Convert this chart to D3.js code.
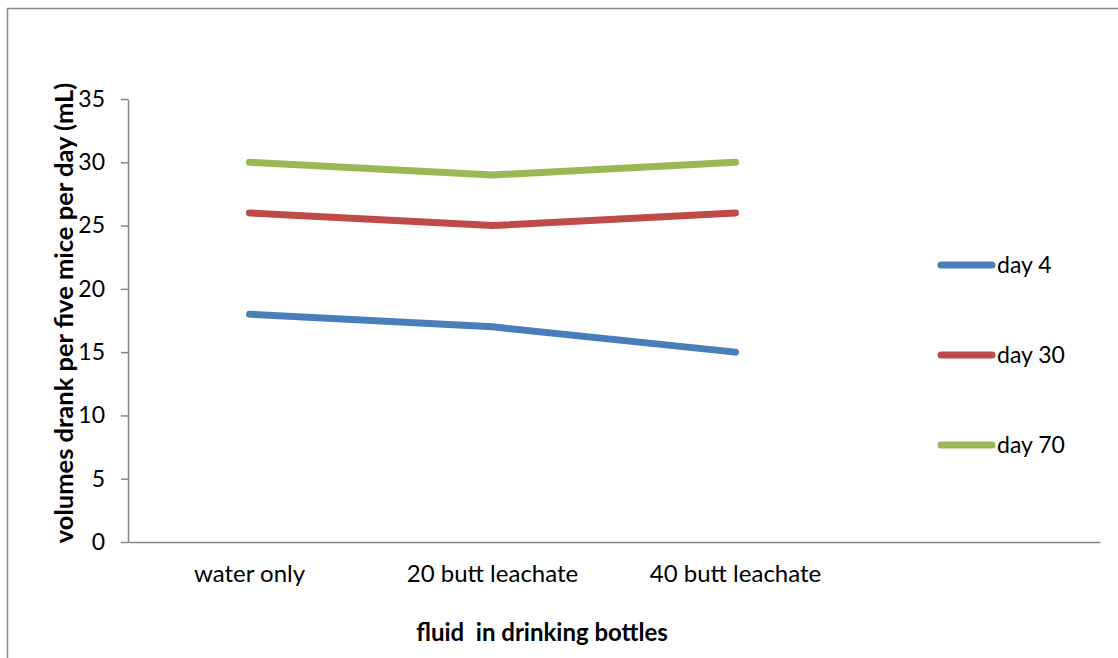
<!DOCTYPE html>
<html>
<head>
<meta charset="utf-8">
<script src="https://cdn.jsdelivr.net/npm/d3@7"></script>
<style>
  html, body { margin: 0; padding: 0; background: #fff; }
  svg { display: block; }
  text { font-family: Lato, "Open Sans", sans-serif; fill: #000; }
</style>
</head>
<body>
<svg id="chart" width="1118" height="658"></svg>
<script>
// Categories along the x axis (the last slot is left empty, the legend sits there)
const categories = ["water only", "20 butt leachate", "40 butt leachate", ""];
const seriesNames = ["day 4", "day 30", "day 70"];
const day4 = [18, 17, 15];
const day30 = [26, 25, 26];
const day70 = [30, 29, 30];
const yTicks = [0, 5, 10, 15, 20, 25, 30, 35];
const colors = ["#4A7EBB", "#BE4B48", "#98B954"];

const series = [day4, day30, day70].map((vals, i) => ({
  name: seriesNames[i],
  color: colors[i],
  values: vals.map((v, j) => ({ cat: categories[j], v }))
}));

const svg = d3.select("#chart");
const W = 1118, H = 658;
const plot = { left: 128, right: 1100, top: 99, bottom: 542 };
const labelSize = 23;

// outer chart frame (right and bottom edges fall outside the canvas)
svg.append("rect")
  .attr("x", 7.5).attr("y", 8.5)
  .attr("width", W + 20).attr("height", H + 20)
  .attr("fill", "none").attr("stroke", "#898989").attr("stroke-width", 1.5);

const x = d3.scaleBand().domain(categories).range([plot.left, plot.right]);
const y = d3.scaleLinear().domain([0, 35]).range([plot.bottom, plot.top]);

// y axis
const yAxis = svg.append("g")
  .attr("transform", `translate(${plot.left},0)`)
  .call(d3.axisLeft(y).tickValues(yTicks).tickSize(7).tickPadding(16).tickSizeOuter(0));
yAxis.select(".domain").attr("stroke", "#868686").attr("stroke-width", 1.5);
yAxis.selectAll(".tick line").attr("stroke", "#868686").attr("stroke-width", 1.5);
yAxis.selectAll(".tick text")
  .attr("font-family", "Lato, 'Open Sans', sans-serif")
  .attr("font-size", labelSize).attr("fill", "#000");

// x axis (no tick marks)
const xAxis = svg.append("g")
  .attr("transform", `translate(0,${plot.bottom})`)
  .call(d3.axisBottom(x).tickSize(0).tickPadding(23).tickSizeOuter(0));
xAxis.select(".domain").attr("stroke", "#868686").attr("stroke-width", 1.5);
xAxis.selectAll(".tick text")
  .attr("font-family", "Lato, 'Open Sans', sans-serif")
  .attr("font-size", 24).attr("fill", "#000");

// series lines
const line = d3.line()
  .x(d => x(d.cat) + x.bandwidth() / 2)
  .y(d => y(d.v));

svg.append("g").selectAll("path")
  .data(series)
  .join("path")
  .attr("d", d => line(d.values))
  .attr("fill", "none")
  .attr("stroke", d => d.color)
  .attr("stroke-width", 7)
  .attr("stroke-linecap", "round")
  .attr("stroke-linejoin", "round");

// legend
const legendY = d3.scalePoint().domain(seriesNames).range([265, 445]);
const legend = svg.append("g").selectAll("g")
  .data(series)
  .join("g")
  .attr("transform", d => `translate(0,${legendY(d.name)})`);
legend.append("line")
  .attr("x1", 941).attr("x2", 992)
  .attr("stroke", d => d.color).attr("stroke-width", 7)
  .attr("stroke-linecap", "round");
legend.append("text")
  .attr("x", 997).attr("dy", "0.35em")
  .attr("font-size", labelSize)
  .text(d => d.name);

// axis titles
svg.append("text")
  .attr("x", 542).attr("y", 641)
  .attr("text-anchor", "middle")
  .attr("font-size", 24).attr("font-weight", "bold")
  .attr("xml:space", "preserve")
  .style("white-space", "pre")
  .text("fluid  in drinking bottles");

svg.append("text")
  .attr("transform", "translate(73,313) rotate(-90)")
  .attr("text-anchor", "middle")
  .attr("font-size", 25.5).attr("font-weight", "bold")
  .text("volumes drank per five mice per day (mL)");
</script>
</body>
</html>
